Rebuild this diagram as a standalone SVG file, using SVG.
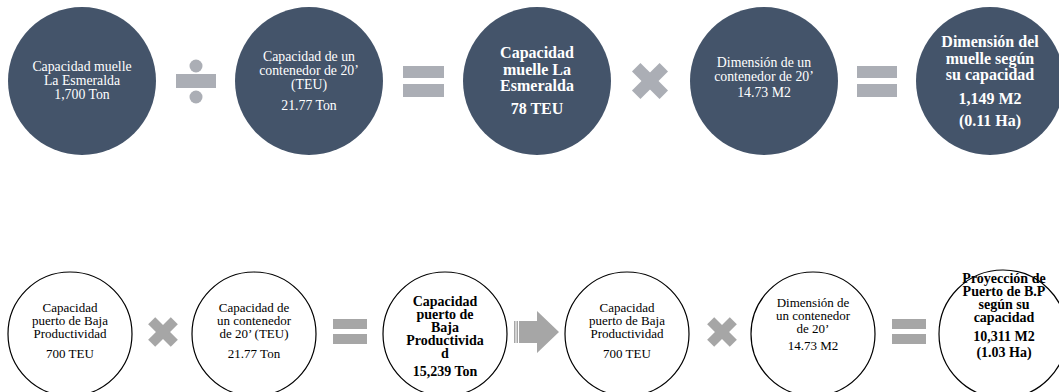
<svg xmlns="http://www.w3.org/2000/svg" width="1059" height="392" viewBox="0 0 1059 392">
<style>
.dk{fill:#44546a}
.ol{fill:#fff;stroke:#000;stroke-width:1.2}
.opt{fill:#abaeb5}
.opb{fill:#a6a6a6}
text{font-family:"Liberation Serif","Times New Roman",serif;text-anchor:middle}
.w{fill:#fff;font-size:13.8px}
.wb{fill:#fff;font-size:16px;font-weight:bold}
.k{fill:#000;font-size:13px}
.kb{fill:#000;font-size:14px;font-weight:bold}
</style>
<rect width="1059" height="392" fill="#fff"/>
<g id="n1"><circle class="dk" cx="82" cy="81" r="74"/>
<text class="w" x="82" y="71">Capacidad muelle</text>
<text class="w" x="82" y="85">La Esmeralda</text>
<text class="w" x="82" y="99">1,700 Ton</text></g>
<g id="n2"><circle class="dk" cx="309" cy="81" r="74"/>
<text class="w" x="309" y="61">Capacidad de un</text>
<text class="w" x="309" y="75">contenedor de 20’</text>
<text class="w" x="309" y="89">(TEU)</text>
<text class="w" x="309" y="110">21.77 Ton</text></g>
<g id="n3"><circle class="dk" cx="537" cy="81" r="74"/>
<text class="wb" x="537" y="58">Capacidad</text>
<text class="wb" x="537" y="75">muelle La</text>
<text class="wb" x="537" y="91">Esmeralda</text>
<text class="wb" x="537" y="114">78 TEU</text></g>
<g id="n4"><circle class="dk" cx="764" cy="81" r="74"/>
<text class="w" x="764" y="67">Dimensión de un</text>
<text class="w" x="764" y="81">contenedor de 20’</text>
<text class="w" x="764" y="97">14.73 M2</text></g>
<g id="n5"><circle class="dk" cx="990" cy="81" r="74"/>
<text class="wb" x="990" y="47">Dimensión del</text>
<text class="wb" x="990" y="64">muelle según</text>
<text class="wb" x="990" y="80">su capacidad</text>
<text class="wb" x="990" y="104">1,149 M2</text>
<text class="wb" x="990" y="126">(0.11 Ha)</text></g>
<g id="b1"><circle class="ol" cx="70" cy="334" r="62"/>
<text class="k" x="70" y="312">Capacidad</text>
<text class="k" x="70" y="325">puerto de Baja</text>
<text class="k" x="70" y="338">Productividad</text>
<text class="k" x="70" y="358">700 TEU</text></g>
<g id="b2"><circle class="ol" cx="254" cy="334" r="62"/>
<text class="k" x="254" y="312">Capacidad de</text>
<text class="k" x="254" y="325">un contenedor</text>
<text class="k" x="254" y="338">de 20’ (TEU)</text>
<text class="k" x="254" y="358">21.77 Ton</text></g>
<g id="b3"><circle class="ol" cx="445" cy="334" r="62"/>
<text class="kb" x="445" y="306">Capacidad</text>
<text class="kb" x="445" y="319">puerto de</text>
<text class="kb" x="445" y="332">Baja</text>
<text class="kb" x="445" y="345">Productivida</text>
<text class="kb" x="445" y="358">d</text>
<text class="kb" x="445" y="376">15,239 Ton</text></g>
<g id="b4"><circle class="ol" cx="627" cy="334" r="62"/>
<text class="k" x="627" y="312">Capacidad</text>
<text class="k" x="627" y="325">puerto de Baja</text>
<text class="k" x="627" y="338">Productividad</text>
<text class="k" x="627" y="358">700 TEU</text></g>
<g id="b5"><circle class="ol" cx="813" cy="334" r="62"/>
<text class="k" x="813" y="307">Dimensión de</text>
<text class="k" x="813" y="320">un contenedor</text>
<text class="k" x="813" y="333">de 20’</text>
<text class="k" x="813" y="350">14.73 M2</text></g>
<g id="b6"><circle class="ol" cx="1003" cy="334" r="64"/>
<text class="kb" x="1004" y="283">Proyección de</text>
<text class="kb" x="1004" y="296">Puerto de B.P</text>
<text class="kb" x="1004" y="309">según su</text>
<text class="kb" x="1004" y="322">capacidad</text>
<text class="kb" x="1004" y="341">10,311 M2</text>
<text class="kb" x="1004" y="357">(1.03 Ha)</text></g>
<g id="connectors">
<g class="opt">
<rect x="176" y="74" width="40" height="14"/><circle cx="196" cy="66" r="6.5"/><circle cx="196" cy="97" r="6.5"/>
<rect x="403" y="66" width="41" height="12"/><rect x="403" y="84" width="41" height="13"/>
<g transform="translate(650 81) rotate(45)"><rect x="-19.5" y="-6" width="39" height="12"/><rect x="-6" y="-19.5" width="12" height="39"/></g>
<rect x="857" y="66" width="40" height="12"/><rect x="857" y="84" width="40" height="13"/>
</g>
<g class="opb">
<g transform="translate(163 332) rotate(45)"><rect x="-16" y="-5" width="32" height="10"/><rect x="-5" y="-16" width="10" height="32"/></g>
<rect x="333" y="319" width="34" height="10"/><rect x="333" y="334" width="34" height="10"/>
<rect x="514" y="321" width="1.5" height="22"/><rect x="516.5" y="321" width="1.5" height="22"/>
<polygon points="519,321 537,321 537,311 559,332 537,353 537,343 519,343"/>
<g transform="translate(722 332) rotate(45)"><rect x="-16" y="-5" width="32" height="10"/><rect x="-5" y="-16" width="10" height="32"/></g>
<rect x="892" y="319" width="34" height="10"/><rect x="892" y="334" width="34" height="10"/>
</g>
</g>
</svg>
